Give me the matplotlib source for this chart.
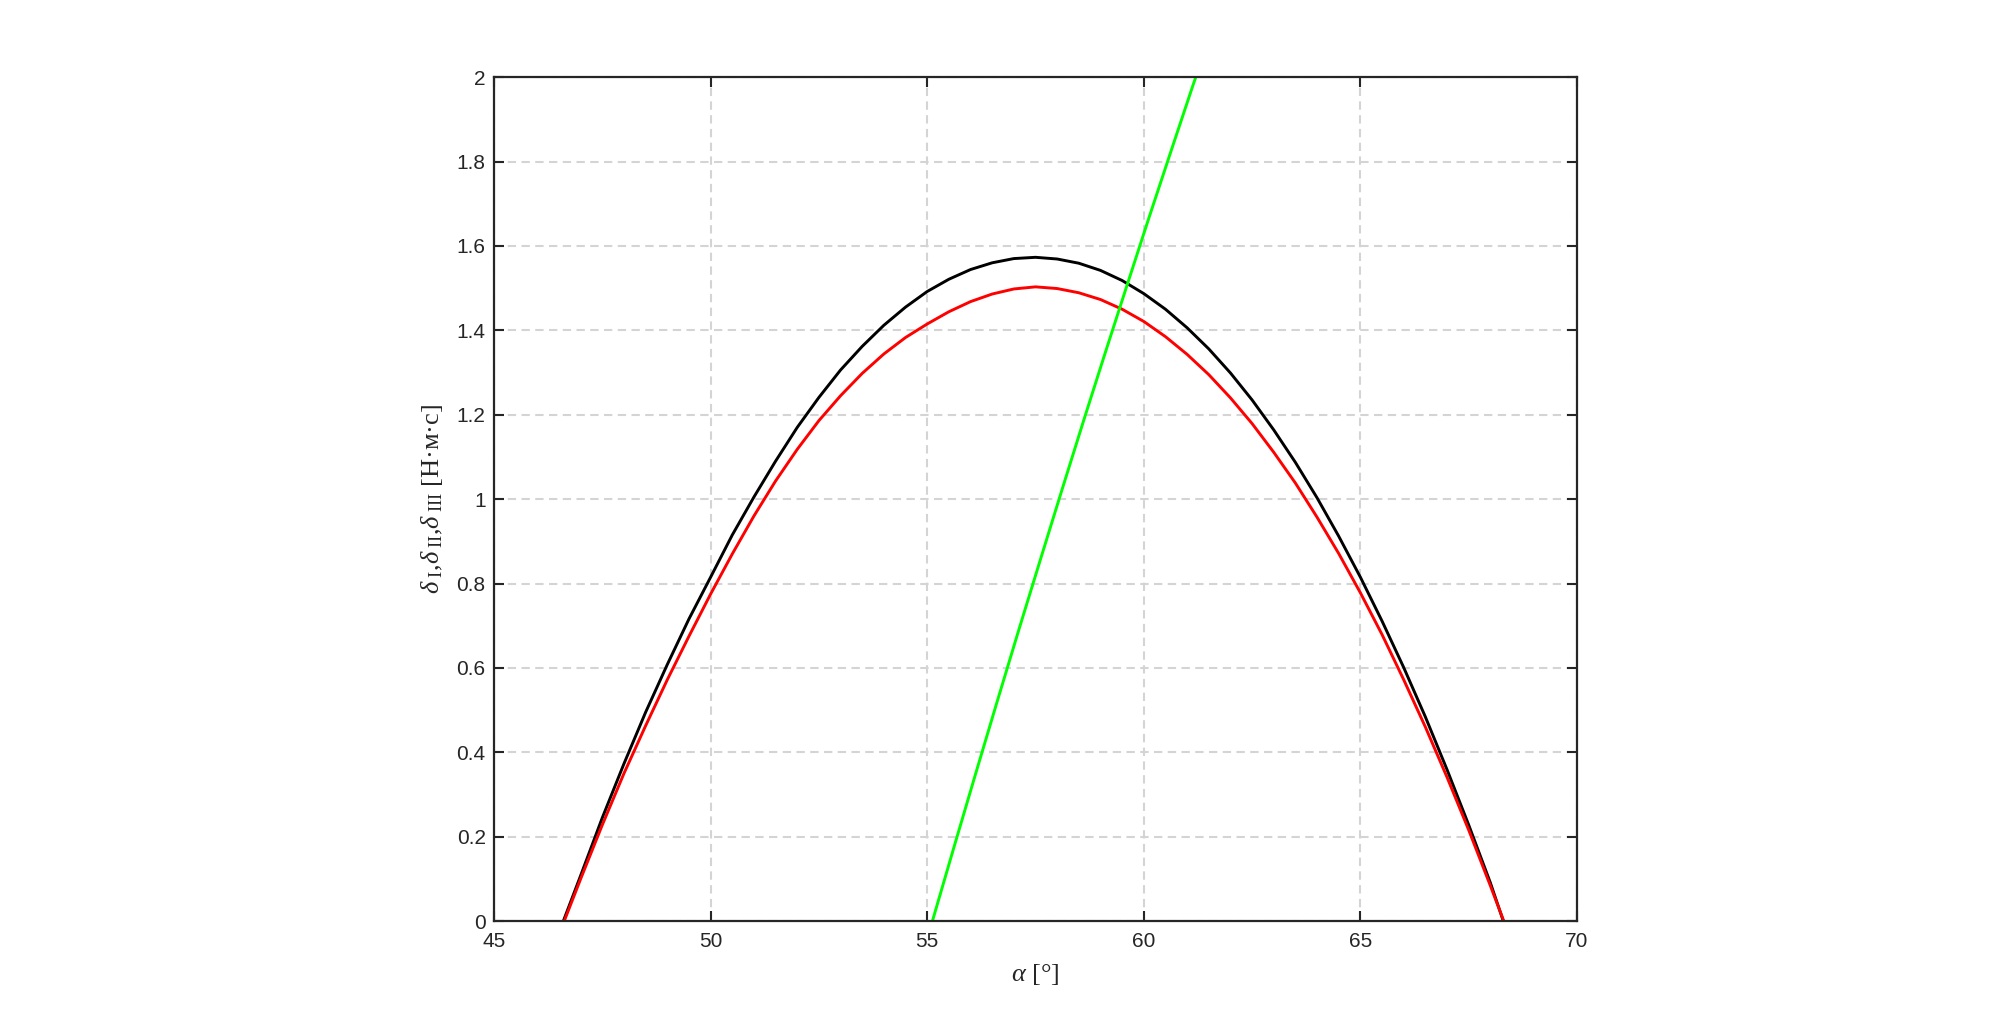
import numpy as np
import matplotlib.pyplot as plt

plt.rcParams['font.family'] = ['Liberation Sans', 'DejaVu Sans']
plt.rcParams['mathtext.fontset'] = 'custom'
plt.rcParams['mathtext.rm'] = 'Liberation Serif'
plt.rcParams['mathtext.it'] = 'Liberation Serif:italic'

# values
alpha_black = [46.6, 47.0, 47.5, 48.0, 48.5, 49.0, 49.5, 50.0, 50.5, 51.0, 51.5,
               52.0, 52.5, 53.0, 53.5, 54.0, 54.5, 55.0, 55.5, 56.0, 56.5, 57.0,
               57.5, 58.0, 58.5, 59.0, 59.5, 60.0, 60.5, 61.0, 61.5, 62.0, 62.5,
               63.0, 63.5, 64.0, 64.5, 65.0, 65.5, 66.0, 66.5, 67.0, 67.5, 68.0, 68.3]
delta_black = [0.000, 0.108, 0.245, 0.373, 0.495, 0.608, 0.716, 0.815, 0.915, 1.005, 1.090,
               1.170, 1.241, 1.306, 1.362, 1.412, 1.455, 1.492, 1.521, 1.544, 1.560, 1.570,
               1.573, 1.569, 1.559, 1.542, 1.518, 1.487, 1.450, 1.406, 1.356, 1.299, 1.235,
               1.164, 1.087, 1.003, 0.912, 0.815, 0.711, 0.601, 0.484, 0.359, 0.228, 0.091, 0.000]

alpha_red = [46.62, 47.0, 47.5, 48.0, 48.5, 49.0, 49.5, 50.0, 50.5, 51.0, 51.5,
             52.0, 52.5, 53.0, 53.5, 54.0, 54.5, 55.0, 55.5, 56.0, 56.5, 57.0,
             57.5, 58.0, 58.5, 59.0, 59.5, 60.0, 60.5, 61.0, 61.5, 62.0, 62.5,
             63.0, 63.5, 64.0, 64.5, 65.0, 65.5, 66.0, 66.5, 67.0, 67.5, 68.0, 68.31]
delta_red = [0.000, 0.100, 0.228, 0.350, 0.463, 0.572, 0.675, 0.775, 0.870, 0.960, 1.043,
             1.118, 1.186, 1.245, 1.298, 1.344, 1.383, 1.415, 1.444, 1.468, 1.486, 1.498,
             1.503, 1.499, 1.489, 1.473, 1.450, 1.421, 1.385, 1.343, 1.295, 1.240, 1.179,
             1.111, 1.038, 0.957, 0.871, 0.778, 0.679, 0.572, 0.460, 0.341, 0.216, 0.084, 0.000]

alpha_green = [55.12, 55.62, 56.12, 56.62, 57.12, 57.62, 58.12, 58.62, 59.12, 59.62,
               60.12, 60.62, 61.12, 61.20]
delta_green = [0.000, 0.176, 0.350, 0.522, 0.692, 0.859, 1.025, 1.189, 1.350, 1.509,
               1.667, 1.822, 1.976, 2.000]

xticks = [45, 50, 55, 60, 65, 70]
yticks = [0, 0.2, 0.4, 0.6, 0.8, 1, 1.2, 1.4, 1.6, 1.8, 2]
ytick_labels = ['0', '0.2', '0.4', '0.6', '0.8', '1', '1.2', '1.4', '1.6', '1.8', '2']

ink = '#262626'

fig = plt.figure(figsize=(20, 10.35), dpi=100)
ax = fig.add_axes([0.247, 0.110, 0.5415, 0.8155])

ax.plot(alpha_black, delta_black, color='#000000', lw=2.1)
ax.plot(alpha_red, delta_red, color='#ff0000', lw=2.1)
ax.plot(alpha_green, delta_green, color='#00ff00', lw=2.1)

ax.set_xlim(45, 70)
ax.set_ylim(0, 2)
ax.set_xticks(xticks)
ax.set_yticks(yticks)
ax.set_yticklabels(ytick_labels)

ax.grid(True, color='#d4d4d4', lw=1.5, linestyle=(0, (4, 2.6)))
ax.set_axisbelow(True)

for s in ax.spines.values():
    s.set_color(ink)
    s.set_linewidth(1.6)
ax.tick_params(direction='in', length=7, width=1.5, colors=ink,
               labelsize=15, top=True, right=True)
ax.tick_params(axis='x', pad=8)
ax.tick_params(axis='y', pad=6)

ax.set_xlabel(r'$\alpha$ [°]', family='Liberation Serif', fontsize=19, color=ink, labelpad=8)
ax.set_ylabel(r'$\delta_{\ \rm I}$,$\delta_{\ \rm II}$,$\delta_{\ \rm III}$ [Н·м·с]',
              family='Liberation Serif', fontsize=19, color=ink, labelpad=8)

fig.savefig('out.png', dpi=100, facecolor='white')
